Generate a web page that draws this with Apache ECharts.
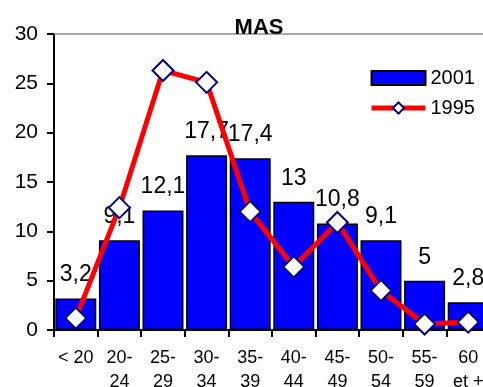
<!DOCTYPE html>
<html>
<head>
<meta charset="utf-8">
<script src="https://cdn.jsdelivr.net/npm/echarts@6/dist/echarts.min.js"></script>
<style>
  html, body { margin: 0; padding: 0; background: #fff; }
  #chart { width: 483px; height: 387px; }
</style>
</head>
<body>
<div id="chart"></div>
<script>
// Age groups
const categories = ['< 20', '20-\n24', '25-\n29', '30-\n34', '35-\n39', '40-\n44', '45-\n49', '50-\n54', '55-\n59', '60\net +'];
// Share per age group, 2001 (bars)
const values2001 = [3.2, 9.1, 12.1, 17.7, 17.4, 13, 10.8, 9.1, 5, 2.8];
// Share per age group, 1995 (line)
const values1995 = [1.2, 12.4, 26.3, 25.1, 12.0, 6.4, 10.9, 4.0, 0.6, 0.8];
// Value axis
const yMin = 0, yMax = 30, yStep = 5;

const font = 'Arial, "Liberation Sans", sans-serif';
const chart = echarts.init(document.getElementById('chart'), null, { renderer: 'canvas' });

chart.setOption({
  animation: false,
  textStyle: { fontFamily: font, color: '#000' },
  title: {
    text: 'MAS',
    left: 254, top: 12,
    textAlign: 'center',
    textStyle: { fontFamily: font, fontSize: 22, fontWeight: 'bold', color: '#000' }
  },
  legend: {
    orient: 'vertical',
    left: 364, top: 63,
    itemWidth: 54, itemHeight: 14,
    itemGap: 10,
    textStyle: { fontFamily: font, fontSize: 20, color: '#000' },
    data: [
      { name: '2001', icon: 'rect' },
      { name: '1995', lineStyle: { width: 5, color: '#FF0000' } }
    ]
  },
  grid: { left: 54, right: -7, top: 34, bottom: 57, containLabel: false, outerBoundsMode: 'none' },
  xAxis: {
    type: 'category',
    data: categories,
    axisLine: { lineStyle: { color: '#000', width: 2 } },
    axisTick: { show: true, length: 7, lineStyle: { color: '#000', width: 2 } },
    axisLabel: { fontFamily: font, fontSize: 18, lineHeight: 24, color: '#000', margin: 16, interval: 0 },
    splitLine: { show: false }
  },
  yAxis: {
    type: 'value',
    min: yMin, max: yMax, interval: yStep,
    axisLine: { show: true, lineStyle: { color: '#000', width: 2 } },
    axisTick: { show: true, length: 7, lineStyle: { color: '#000', width: 2 } },
    axisLabel: { fontFamily: font, fontSize: 21, color: '#000', margin: 16 },
    splitLine: { show: false }
  },
  series: [
    {
      name: '2001',
      type: 'bar',
      data: values2001,
      barCategoryGap: '6%',
      itemStyle: { color: '#0000FF', borderColor: '#000', borderWidth: 1.5 },
      label: {
        show: true,
        position: 'top',
        distance: 12,
        fontFamily: font,
        fontSize: 23,
        color: '#000',
        formatter: p => String(p.value).replace('.', ',')
      },
      markLine: {
        silent: true,
        symbol: 'none',
        label: { show: false },
        lineStyle: { color: '#8c8c8c', width: 1.5, type: 'solid' },
        data: [{ yAxis: yMax }]
      },
      z: 2
    },
    {
      name: '1995',
      type: 'line',
      data: values1995,
      symbol: 'diamond',
      symbolSize: 21,
      showAllSymbol: true,
      lineStyle: { color: '#FF0000', width: 5 },
      itemStyle: { color: '#FFFFFF', borderColor: '#000080', borderWidth: 2 },
      z: 3
    }
  ]
});
</script>
</body>
</html>
